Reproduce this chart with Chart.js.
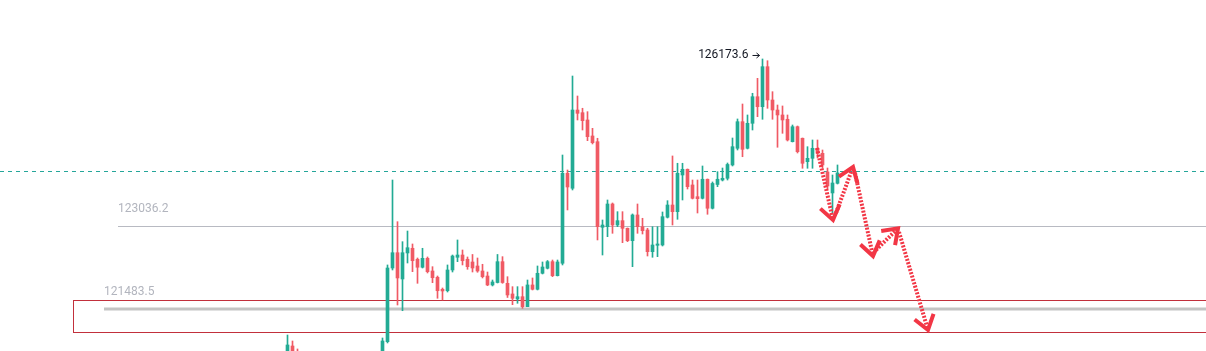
<!DOCTYPE html>
<html>
<head>
<meta charset="utf-8">
<script src="https://cdn.jsdelivr.net/npm/chart.js@4.4.1/dist/chart.umd.min.js"></script>
<style>
  html, body { margin: 0; padding: 0; background: #ffffff; }
  canvas { display: block; }
</style>
</head>
<body>
<canvas id="chart" width="1206" height="351"></canvas>
<script>
// candle slots: first candle sits at slot 57, slots 60-75 are below the visible range
const firstSlot = 57;

const opens = [
  120658, 120789, 120676,
  null, null, null, null, null, null, null, null, null, null, null, null, null, null, null, null,
  120526, 120870, 122252, 122539, 122046, 122534, 122622, 122416, 122266, 122434,
  122196, 122078, 121853, 121826, 122215, 122453, 122496, 122416, 122365, 122290,
  122196, 122102, 121934, 121980, 122371, 121965, 121765, 121671, 121714, 121527,
  121934, 121853, 122153, 122247, 122371, 122108, 122341, 124029, 123748, 125216,
  125166, 125029, 124729, 124622, 123016, 123027, 123453, 123059, 123140, 122997,
  122765, 123247, 123027, 122965, 122558, 122678, 122684, 123204, 123434, 123309,
  123997, 124104, 123810, 123590, 123560, 123917, 123373, 123819, 123903, 123935,
  124185, 124498, 124997, 124498, 124967, 125466, 125278, 126029, 125404, 125216,
  125123, 125042, 124622, 124903, 124686, 124247, 124310, 124498, 124404, 124054,
  123660, 123841
];
const closes = [
  120808, 120658, 120601,
  null, null, null, null, null, null, null, null, null, null, null, null, null, null, null, null,
  120883, 122252, 122539, 122065, 122539, 122633, 122389, 122266, 122434, 122183,
  122070, 121826, 121821, 122215, 122477, 122496, 122389, 122277, 122252, 122196,
  122089, 121934, 121990, 122371, 121980, 121746, 121684, 121714, 121527, 121934,
  121853, 122153, 122271, 122371, 122108, 122365, 124029, 123772, 125216, 125154,
  125016, 124716, 124603, 123027, 123059, 123453, 123059, 123140, 122997, 122765,
  123247, 123027, 122952, 122558, 122684, 122703, 123215, 123434, 123309, 124029,
  124104, 123778, 123560, 123553, 123917, 123373, 123838, 123917, 123935, 124194,
  124528, 124997, 124479, 124967, 125466, 125278, 126029, 125404, 125216, 125123,
  125029, 124654, 124903, 124434, 124217, 124310, 124498, 124404, 124185, 123791,
  123847, 124035
];
const highs = [
  120995, 120883, 120733,
  null, null, null, null, null, null, null, null, null, null, null, null, null, null, null, null,
  120939, 122309, 123903, 123121, 122746, 122946, 122703, 122440, 122622, 122459,
  122277, 122102, 121877, 122309, 122496, 122778, 122590, 122459, 122506, 122440,
  122322, 122177, 122027, 122506, 122465, 122089, 121902, 121902, 121902, 122027,
  122065, 122290, 122365, 122393, 122402, 122402, 124372, 124091, 125854, 125479,
  125249, 125185, 124873, 124686, 123153, 123528, 123472, 123309, 123309, 123003,
  123266, 123453, 123185, 122997, 123027, 123027, 123303, 123515, 124354, 124217,
  124217, 124110, 123903, 123903, 124166, 123922, 123866, 124059, 124128, 124222,
  124691, 125048, 125329, 125123, 125530, 125811, 126173.6, 126141, 125560, 125310,
  125292, 125123, 124935, 124916, 124691, 124528, 124654, 124654, 124466, 124128,
  123997, 124185
];
const lows = [
  120583, 120583, 120560,
  null, null, null, null, null, null, null, null, null, null, null, null, null, null, null, null,
  120489, 120846, 122215, 121558, 121451, 122346, 122183, 121965, 122252, 122159,
  121977, 121684, 121652, 121802, 122177, 122371, 122309, 122228, 122177, 122172,
  122065, 121920, 121915, 121971, 121965, 121699, 121564, 121590, 121496, 121527,
  121840, 121840, 122140, 122234, 122089, 122102, 122309, 123341, 123716, 125029,
  124841, 124641, 124579, 122778, 122496, 122840, 122903, 123027, 122727, 122746,
  122277, 122903, 122890, 122477, 122453, 122465, 122665, 123190, 123059, 123166,
  123528, 123734, 123547, 123284, 123547, 123260, 123359, 123778, 123885, 123903,
  124166, 124466, 124340, 124485, 124841, 125091, 125042, 125248, 125042, 124517,
  124779, 124635, 124616, 124410, 124123, 124123, 124123, 124316, 124128, 123716,
  123284, 123828
];

// drawn levels
const levelPrices = [123036.2, 121483.5];
const levelLabels = ['123036.2', '121483.5'];
const levelStarts = [23.1, 20.3];
const lastPrice = 124072;
const zoneHigh = 121652;
const zoneLow = 121052;
const zoneStart = 14.1;
const peakLabel = '126173.6';

// projected path: [slotFrom, priceFrom, slotTo, priceTo]
const pathSlots = [
  [162.9, 124504, 166.1, 123153],
  [166.7, 123284, 170.1, 124147],
  [170.5, 124035, 174.1, 122477],
  [174.7, 122590, 179.1, 122997],
  [179.3, 122928, 185.1, 121089]
];

const UP = '#22ab94';
const DOWN = '#f05a64';

const bodies = [];
const wicks = [];
const colors = [];
opens.forEach((o, i) => {
  if (o === null) return;
  const slot = firstSlot + i;
  bodies.push({ x: slot, y: [o, closes[i]] });
  wicks.push({ x: slot, y: [lows[i], highs[i]] });
  colors.push(closes[i] >= o ? UP : DOWN);
});

const overlay = {
  id: 'overlay',
  beforeDatasetsDraw(chart) {
    const { ctx, chartArea } = chart;
    const x = chart.scales.x;
    const y = chart.scales.y;
    ctx.save();

    // current price dashed line
    const ly = Math.round(y.getPixelForValue(lastPrice)) + 0.5;
    ctx.strokeStyle = '#26a69a';
    ctx.lineWidth = 1;
    ctx.setLineDash([4, 4]);
    ctx.beginPath();
    ctx.moveTo(chartArea.left, ly);
    ctx.lineTo(chartArea.right, ly);
    ctx.stroke();
    ctx.setLineDash([]);

    // zone box
    const zx = Math.round(x.getPixelForValue(zoneStart)) + 0.5;
    const zt = Math.round(y.getPixelForValue(zoneHigh)) + 0.5;
    const zb = Math.round(y.getPixelForValue(zoneLow)) + 0.5;
    ctx.strokeStyle = '#c2303c';
    ctx.lineWidth = 1;
    ctx.strokeRect(zx, zt, chartArea.right + 5 - zx, zb - zt);

    // horizontal levels
    ctx.font = '12px Roboto';
    ctx.textBaseline = 'middle';
    ctx.textAlign = 'left';
    levelPrices.forEach((p, i) => {
      const py = y.getPixelForValue(p);
      const px = x.getPixelForValue(levelStarts[i]);
      const lineY = i === 0 ? Math.round(py) + 0.5 : py;
      ctx.strokeStyle = i === 0 ? '#b8bac2' : '#c4c4c4';
      ctx.lineWidth = i === 0 ? 1 : 3;
      ctx.beginPath();
      ctx.moveTo(px, lineY);
      ctx.lineTo(chartArea.right, lineY);
      ctx.stroke();
      ctx.fillStyle = '#b2b5be';
      ctx.fillText(levelLabels[i], px, py - 17);
    });
    ctx.restore();
  },
  afterDatasetsDraw(chart) {
    const { ctx } = chart;
    const x = chart.scales.x;
    const y = chart.scales.y;
    ctx.save();

    // peak label
    const peakIdx = highs.indexOf(Math.max(...highs.filter(v => v !== null)));
    const hx = x.getPixelForValue(firstSlot + peakIdx);
    const hy = y.getPixelForValue(highs[peakIdx]);
    ctx.font = '12px Roboto';
    ctx.fillStyle = '#131722';
    ctx.textAlign = 'right';
    ctx.textBaseline = 'middle';
    ctx.fillText(peakLabel, hx - 14, hy - 4);
    ctx.strokeStyle = '#131722';
    ctx.lineWidth = 1;
    ctx.beginPath();
    ctx.moveTo(hx - 10, hy - 3.5);
    ctx.lineTo(hx - 3, hy - 3.5);
    ctx.moveTo(hx - 6, hy - 6);
    ctx.lineTo(hx - 3, hy - 3.5);
    ctx.lineTo(hx - 6, hy - 1);
    ctx.stroke();

    // dotted projection arrows
    ctx.strokeStyle = '#f23645';
    ctx.lineCap = 'butt';
    pathSlots.forEach(([s1, p1, s2, p2]) => {
      const x1 = x.getPixelForValue(s1), y1 = y.getPixelForValue(p1);
      const x2 = x.getPixelForValue(s2), y2 = y.getPixelForValue(p2);
      ctx.lineWidth = 4;
      ctx.setLineDash([2, 1.5]);
      ctx.beginPath();
      ctx.moveTo(x1, y1);
      ctx.lineTo(x2, y2);
      ctx.stroke();
      const a = Math.atan2(y2 - y1, x2 - x1);
      const len = 17, spread = 0.62;
      ctx.setLineDash([]);
      ctx.lineJoin = 'miter';
      ctx.beginPath();
      ctx.moveTo(x2 - len * Math.cos(a - spread), y2 - len * Math.sin(a - spread));
      ctx.lineTo(x2, y2);
      ctx.lineTo(x2 - len * Math.cos(a + spread), y2 - len * Math.sin(a + spread));
      ctx.stroke();
    });
    ctx.restore();
  }
};

new Chart(document.getElementById('chart'), {
  type: 'bar',
  data: {
    datasets: [
      {
        label: 'body',
        data: bodies,
        backgroundColor: colors,
        barThickness: 3,
        minBarLength: 1,
        grouped: false,
        borderWidth: 0
      },
      {
        label: 'wick',
        data: wicks,
        backgroundColor: colors,
        barThickness: 1,
        grouped: false,
        borderWidth: 0
      }
    ]
  },
  options: {
    responsive: false,
    animation: false,
    devicePixelRatio: 1,
    layout: { padding: 0 },
    plugins: {
      legend: { display: false },
      tooltip: { enabled: false }
    },
    scales: {
      x: { type: 'linear', min: -0.5, max: 240.7, offset: false, display: false, grid: { offset: false } },
      y: { min: 120695, max: 127280, display: false }
    }
  },
  plugins: [overlay]
});
</script>
</body>
</html>
